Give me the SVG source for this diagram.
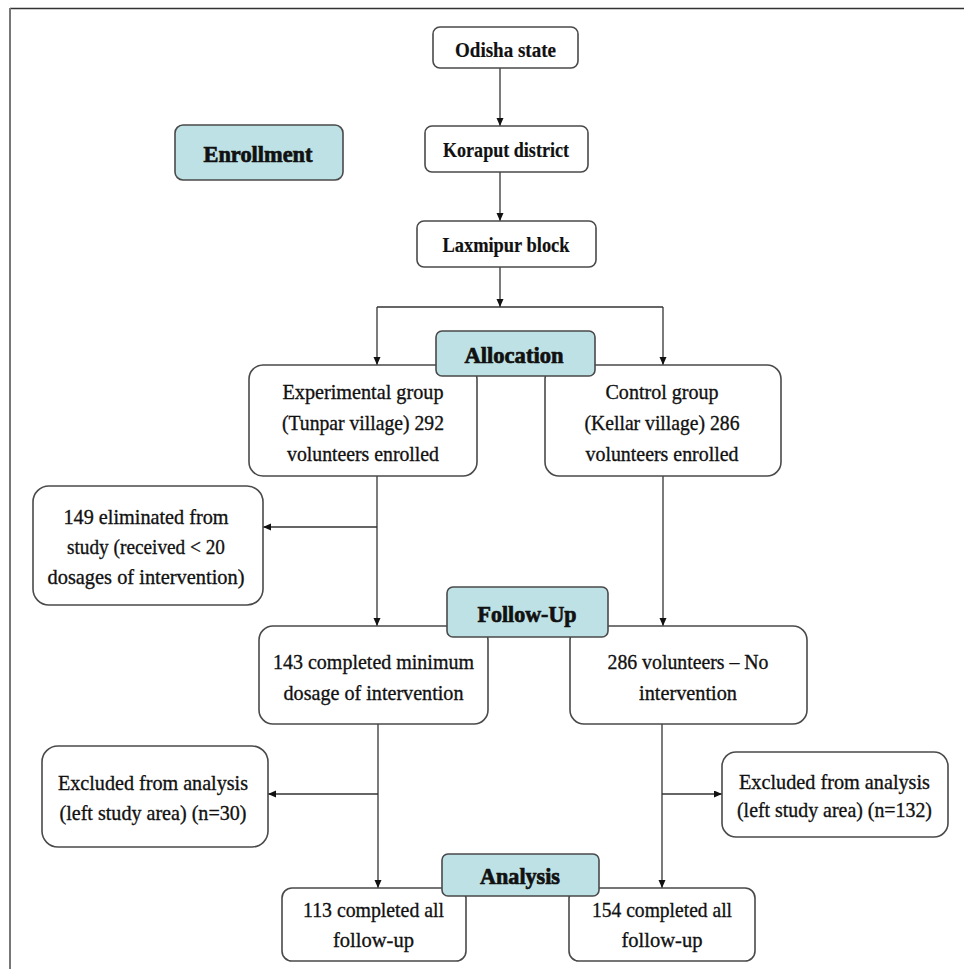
<svg xmlns="http://www.w3.org/2000/svg" width="964" height="969" viewBox="0 0 964 969">
<style>
.box{fill:#fff;stroke:#4a4a4a;stroke-width:1.6}
.lab{fill:#bde1e4;stroke:#4a4a4a;stroke-width:1.6}
.t{font-family:"Liberation Serif","Times New Roman",serif;font-size:22px;fill:#111;text-anchor:middle;stroke:#111;stroke-width:0.35}
.b{font-weight:bold;stroke-width:0.2}
.h{font-family:"Liberation Serif","Times New Roman",serif;font-size:23px;font-weight:bold;fill:#111;text-anchor:middle;stroke:#111;stroke-width:0.7}
.c{fill:none;stroke:#333;stroke-width:1.3}
</style>
<defs>
<marker id="ah" markerWidth="9" markerHeight="8" refX="8" refY="3.5" orient="auto" markerUnits="userSpaceOnUse">
<path d="M0,0 L8,3.5 L0,7 z" fill="#111"/>
</marker>
</defs>
<rect width="964" height="969" fill="#fff"/>
<line x1="10" y1="8.5" x2="964" y2="8.5" stroke="#333" stroke-width="1.6"/>
<line x1="10" y1="8" x2="10" y2="969" stroke="#777" stroke-width="2"/>

<g id="connectors">
<line class="c" x1="500" y1="68" x2="500" y2="126" marker-end="url(#ah)"/>
<line class="c" x1="500" y1="172" x2="500" y2="221" marker-end="url(#ah)"/>
<line class="c" x1="500" y1="267" x2="500" y2="307" marker-end="url(#ah)"/>
<line class="c" x1="377" y1="307" x2="663" y2="307"/>
<line class="c" x1="377" y1="307" x2="377" y2="365" marker-end="url(#ah)"/>
<line class="c" x1="663" y1="307" x2="663" y2="365" marker-end="url(#ah)"/>
<line class="c" x1="377" y1="476" x2="377" y2="626" marker-end="url(#ah)"/>
<line class="c" x1="377" y1="527" x2="263" y2="527" marker-end="url(#ah)"/>
<line class="c" x1="663" y1="476" x2="663" y2="626" marker-end="url(#ah)"/>
<line class="c" x1="378" y1="724" x2="378" y2="888" marker-end="url(#ah)"/>
<line class="c" x1="378" y1="794" x2="268" y2="794" marker-end="url(#ah)"/>
<line class="c" x1="662" y1="724" x2="662" y2="888" marker-end="url(#ah)"/>
<line class="c" x1="662" y1="794" x2="722" y2="794" marker-end="url(#ah)"/>
</g>

<g id="odisha">
<rect class="box" x="433" y="27" width="145" height="41" rx="7"/>
<text class="t b" x="505.5" y="57" textLength="101" lengthAdjust="spacingAndGlyphs">Odisha state</text>
</g>
<g id="enrollment">
<rect class="lab" x="175" y="125" width="168" height="55" rx="8"/>
<text class="h" x="258" y="162" textLength="109" lengthAdjust="spacingAndGlyphs">Enrollment</text>
</g>
<g id="koraput">
<rect class="box" x="425" y="126" width="163" height="46" rx="7"/>
<text class="t b" x="506" y="157" textLength="126" lengthAdjust="spacingAndGlyphs">Koraput district</text>
</g>
<g id="laxmipur">
<rect class="box" x="417" y="221" width="179" height="46" rx="7"/>
<text class="t b" x="506" y="252" textLength="127" lengthAdjust="spacingAndGlyphs">Laxmipur block</text>
</g>

<g id="experimental">
<rect class="box" x="249" y="365" width="228" height="111" rx="14"/>
<text class="t" x="363" y="399" textLength="161" lengthAdjust="spacingAndGlyphs">Experimental group</text>
<text class="t" x="363" y="430" textLength="162" lengthAdjust="spacingAndGlyphs">(Tunpar village) 292</text>
<text class="t" x="363" y="461" textLength="152" lengthAdjust="spacingAndGlyphs">volunteers enrolled</text>
</g>
<g id="control">
<rect class="box" x="545" y="365" width="236" height="111" rx="14"/>
<text class="t" x="662" y="399" textLength="113" lengthAdjust="spacingAndGlyphs">Control group</text>
<text class="t" x="662" y="430" textLength="155" lengthAdjust="spacingAndGlyphs">(Kellar village) 286</text>
<text class="t" x="662" y="461" textLength="153" lengthAdjust="spacingAndGlyphs">volunteers enrolled</text>
</g>
<g id="allocation">
<rect class="lab" x="436" y="331" width="159" height="45" rx="6"/>
<text class="h" x="514" y="363" textLength="99" lengthAdjust="spacingAndGlyphs">Allocation</text>
</g>

<g id="eliminated">
<rect class="box" x="33" y="486" width="230" height="119" rx="16"/>
<text class="t" x="146" y="524" textLength="165" lengthAdjust="spacingAndGlyphs">149 eliminated from</text>
<text class="t" x="146" y="554" textLength="158" lengthAdjust="spacingAndGlyphs">study (received &lt; 20</text>
<text class="t" x="146" y="584" textLength="197" lengthAdjust="spacingAndGlyphs">dosages of intervention)</text>
</g>

<g id="completed-min">
<rect class="box" x="259" y="626" width="229" height="98" rx="14"/>
<text class="t" x="373.5" y="669" textLength="201" lengthAdjust="spacingAndGlyphs">143 completed minimum</text>
<text class="t" x="373.5" y="700" textLength="180" lengthAdjust="spacingAndGlyphs">dosage of intervention</text>
</g>
<g id="no-intervention">
<rect class="box" x="570" y="626" width="237" height="98" rx="14"/>
<text class="t" x="688" y="669" textLength="161" lengthAdjust="spacingAndGlyphs">286 volunteers – No</text>
<text class="t" x="688" y="700" textLength="98" lengthAdjust="spacingAndGlyphs">intervention</text>
</g>
<g id="followup">
<rect class="lab" x="447" y="587" width="161" height="50" rx="6"/>
<text class="h" x="527" y="622" textLength="99" lengthAdjust="spacingAndGlyphs">Follow-Up</text>
</g>

<g id="excluded-left">
<rect class="box" x="42" y="746" width="226" height="101" rx="16"/>
<text class="t" x="153" y="790" textLength="190" lengthAdjust="spacingAndGlyphs">Excluded from analysis</text>
<text class="t" x="153" y="820" textLength="187" lengthAdjust="spacingAndGlyphs">(left study area) (n=30)</text>
</g>
<g id="excluded-right">
<rect class="box" x="722" y="752" width="226" height="85" rx="14"/>
<text class="t" x="834.5" y="789" textLength="191" lengthAdjust="spacingAndGlyphs">Excluded from analysis</text>
<text class="t" x="834.5" y="817" textLength="195" lengthAdjust="spacingAndGlyphs">(left study area) (n=132)</text>
</g>

<g id="completed-113">
<rect class="box" x="282" y="888" width="184" height="73" rx="10"/>
<text class="t" x="373.5" y="917" textLength="141" lengthAdjust="spacingAndGlyphs">113 completed all</text>
<text class="t" x="373.5" y="947" textLength="81" lengthAdjust="spacingAndGlyphs">follow-up</text>
</g>
<g id="completed-154">
<rect class="box" x="569" y="888" width="186" height="73" rx="10"/>
<text class="t" x="662" y="917" textLength="140" lengthAdjust="spacingAndGlyphs">154 completed all</text>
<text class="t" x="662" y="947" textLength="81" lengthAdjust="spacingAndGlyphs">follow-up</text>
</g>
<g id="analysis">
<rect class="lab" x="442" y="854" width="157" height="42" rx="6"/>
<text class="h" x="520" y="884" textLength="80" lengthAdjust="spacingAndGlyphs">Analysis</text>
</g>
</svg>
